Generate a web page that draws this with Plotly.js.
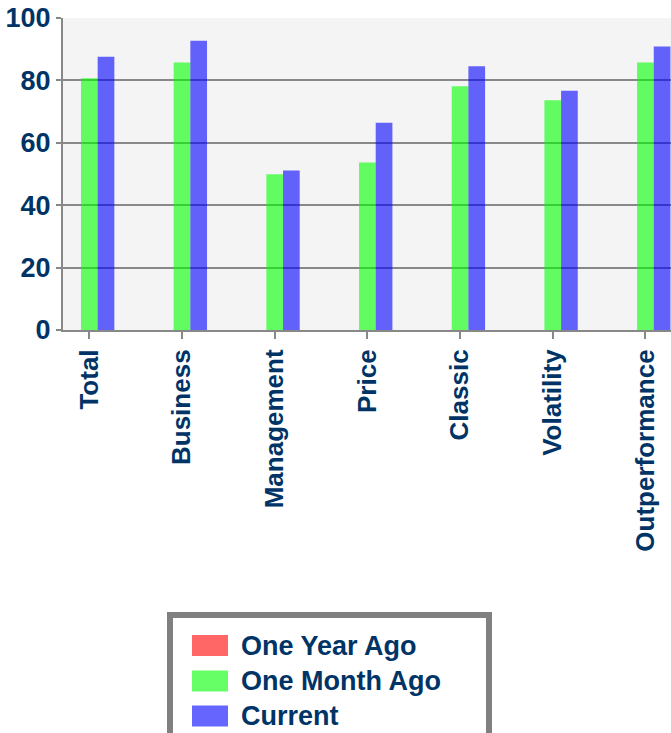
<!DOCTYPE html>
<html>
<head>
<meta charset="utf-8">
<script src="https://cdn.plot.ly/plotly-3.0.1.min.js"></script>
<style>
  html, body { margin: 0; padding: 0; background: #ffffff; overflow: hidden; }
  #chart { width: 671px; height: 733px; }
</style>
</head>
<body>
<div id="chart"></div>
<script>
// ---- data ----
var categories = ['Total', 'Business', 'Management', 'Price', 'Classic', 'Volatility', 'Outperformance'];
var seriesNames = ['One Year Ago', 'One Month Ago', 'Current'];
var oneYearAgo = [0, 0, 0, 0, 0, 0, 0];
var oneMonthAgo = [80.7, 85.7, 49.9, 53.7, 78.1, 73.6, 85.7];
var current = [87.6, 92.7, 51.1, 66.4, 84.5, 76.7, 90.9];
var yTicks = [0, 20, 40, 60, 80, 100];

// ---- styles ----
var barColors = ['rgba(255,0,0,0.6)', 'rgba(0,255,0,0.6)', 'rgba(0,0,255,0.6)'];
var swatchColors = ['#ff6666', '#66ff66', '#6666ff'];
var textColor = '#003366';
var fontFamily = '"Liberation Sans", Arial, Helvetica, sans-serif';
var fontSize = 27;
var xFontSize = 26;

var W = 671, H = 733;
var M = {l: 63, r: 0, t: 18, b: 403};
var plotW = W - M.l - M.r, plotH = H - M.t - M.b;
function px2x(px) { return (px - M.l) / plotW; }
function py2y(py) { return (H - M.b - py) / plotH; }

var seriesValues = [oneYearAgo, oneMonthAgo, current];
var traces = seriesValues.map(function (vals, i) {
  return {
    type: 'bar',
    name: seriesNames[i],
    x: categories,
    y: vals,
    marker: {color: barColors[i], line: {width: 0}},
    showlegend: false,
    hoverinfo: 'x+y+name'
  };
});

// custom legend (large swatches like the reference)
var shapes = [];
var annotations = [];
shapes.push({
  type: 'rect', xref: 'paper', yref: 'paper',
  x0: px2x(170), x1: px2x(489), y0: py2y(615), y1: py2y(780),
  line: {color: '#808080', width: 6}, fillcolor: '#ffffff', layer: 'above'
});
var rowTops = [635, 670.5, 705.5];
seriesNames.forEach(function (name, i) {
  shapes.push({
    type: 'rect', xref: 'paper', yref: 'paper',
    x0: px2x(192), x1: px2x(228), y0: py2y(rowTops[i]), y1: py2y(rowTops[i] + 21),
    line: {width: 0}, fillcolor: swatchColors[i], layer: 'above'
  });
  annotations.push({
    xref: 'paper', yref: 'paper',
    x: px2x(239), y: py2y(rowTops[i] + 10.5),
    xanchor: 'left', yanchor: 'middle', showarrow: false,
    text: name,
    font: {family: fontFamily, size: fontSize, color: textColor, weight: 700}
  });
});

var layout = {
  width: W, height: H,
  margin: M,
  paper_bgcolor: '#ffffff',
  plot_bgcolor: '#f4f4f4',
  barmode: 'group',
  bargap: 0.46,
  bargroupgap: 0,
  showlegend: false,
  font: {family: fontFamily, color: textColor, weight: 700},
  xaxis: {
    type: 'category',
    range: [-0.284, 6.276],
    tickangle: -90,
    ticks: 'outside', ticklen: 7, tickwidth: 2, tickcolor: '#888888',
    showline: true, linecolor: '#888888', linewidth: 2,
    showgrid: false,
    tickfont: {family: fontFamily, size: xFontSize, color: textColor, weight: 700},
    fixedrange: true
  },
  yaxis: {
    range: [0, 100],
    tickvals: yTicks,
    ticks: 'outside', ticklen: 5, tickwidth: 2, tickcolor: '#888888',
    showline: true, linecolor: '#888888', linewidth: 2,
    showgrid: true, gridcolor: '#888888', gridwidth: 2,
    zeroline: false,
    tickfont: {family: fontFamily, size: fontSize, color: textColor, weight: 700},
    fixedrange: true
  },
  shapes: shapes,
  annotations: annotations
};

Plotly.newPlot('chart', traces, layout, {displayModeBar: false, staticPlot: true});
</script>
</body>
</html>
